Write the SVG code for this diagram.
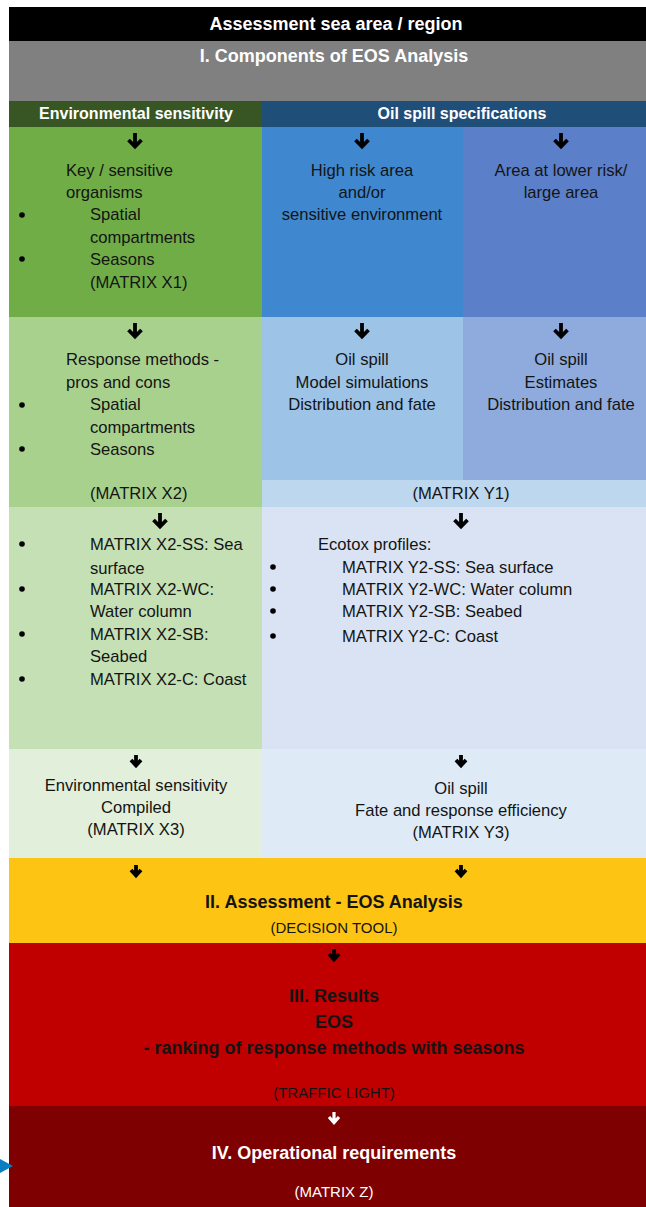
<svg xmlns="http://www.w3.org/2000/svg" width="646" height="1207" viewBox="0 0 646 1207">
<style>
text{font-family:"Liberation Sans",Arial,sans-serif;fill:#141414}
.r{font-size:16.6px}
.s{font-size:15px}
.b{font-size:18px;font-weight:bold}
.h{font-size:16px;font-weight:bold;fill:#fff}
.w{fill:#fff}
.m{text-anchor:middle}
.arr{fill:none;stroke:#000;stroke-width:3.8;stroke-linecap:butt;stroke-linejoin:miter}
.arrw{fill:none;stroke:#fff;stroke-width:3.2;stroke-linejoin:miter}
.dot{fill:#000}
</style>
<defs>
<g id="ar"><path class="arr" d="M0,0V13M-6.5,7L0,13.5L6.5,7"/></g>
<g id="ars"><path class="arr" d="M0,0V10M-5,5L0,10.5L5,5"/></g>
</defs>

<g id="title">
<rect x="9" y="7" width="637" height="34" fill="#000"/>
<text class="b w m" x="336" y="30">Assessment sea area / region</text>
</g>
<g id="components">
<rect x="9" y="41" width="637" height="60" fill="#808080"/>
<text class="b w m" x="334" y="62">I. Components of EOS Analysis</text>
</g>
<g id="hdr-env">
<rect x="9" y="101" width="253" height="26" fill="#375623"/>
<text class="h m" x="136" y="119">Environmental sensitivity</text>
</g>
<g id="hdr-oil">
<rect x="262" y="101" width="384" height="26" fill="#1f4e79"/>
<text class="h m" x="462" y="119">Oil spill specifications</text>
</g>

<g id="key-organisms">
<rect x="9" y="127" width="253" height="190" fill="#70ad47"/>
<text class="r" x="66" y="176">Key / sensitive</text>
<text class="r" x="66" y="198">organisms</text>
<circle class="dot" cx="22" cy="215" r="2.8"/>
<text class="r" x="90" y="220">Spatial</text>
<text class="r" x="90" y="243">compartments</text>
<circle class="dot" cx="22" cy="259" r="2.8"/>
<text class="r" x="90" y="265">Seasons</text>
<text class="r" x="90" y="288">(MATRIX X1)</text>
</g>
<g id="high-risk">
<rect x="262" y="127" width="201" height="190" fill="#3f88cf"/>
<text class="r m" x="362" y="176">High risk area</text>
<text class="r m" x="362" y="198">and/or</text>
<text class="r m" x="362" y="220">sensitive environment</text>
</g>
<g id="lower-risk">
<rect x="463" y="127" width="183" height="190" fill="#5b80c9"/>
<text class="r m" x="561" y="176">Area at lower risk/</text>
<text class="r m" x="561" y="198">large area</text>
</g>

<g id="response-methods">
<rect x="9" y="317" width="253" height="190" fill="#a9d18e"/>
<text class="r" x="66" y="365">Response methods -</text>
<text class="r" x="66" y="388">pros and cons</text>
<circle class="dot" cx="22" cy="405" r="2.8"/>
<text class="r" x="90" y="410">Spatial</text>
<text class="r" x="90" y="433">compartments</text>
<circle class="dot" cx="22" cy="449" r="2.8"/>
<text class="r" x="90" y="455">Seasons</text>
<text class="r" x="90" y="499">(MATRIX X2)</text>
</g>
<g id="model-sim">
<rect x="262" y="317" width="201" height="163" fill="#9dc3e6"/>
<text class="r m" x="362" y="365">Oil spill</text>
<text class="r m" x="362" y="388">Model simulations</text>
<text class="r m" x="362" y="410">Distribution and fate</text>
</g>
<g id="estimates">
<rect x="463" y="317" width="183" height="163" fill="#8faadc"/>
<text class="r m" x="561" y="365">Oil spill</text>
<text class="r m" x="561" y="388">Estimates</text>
<text class="r m" x="561" y="410">Distribution and fate</text>
</g>
<g id="matrix-y1">
<rect x="262" y="480" width="384" height="27" fill="#bdd7ee"/>
<text class="r m" x="461" y="499">(MATRIX Y1)</text>
</g>

<g id="matrix-x2-list">
<rect x="9" y="507" width="253" height="242" fill="#c5e0b4"/>
<circle class="dot" cx="22" cy="544" r="2.8"/>
<text class="r" x="90" y="550">MATRIX X2-SS: Sea</text>
<text class="r" x="90" y="574">surface</text>
<circle class="dot" cx="22" cy="589" r="2.8"/>
<text class="r" x="90" y="595">MATRIX X2-WC:</text>
<text class="r" x="90" y="617">Water column</text>
<circle class="dot" cx="22" cy="634" r="2.8"/>
<text class="r" x="90" y="640">MATRIX X2-SB:</text>
<text class="r" x="90" y="662">Seabed</text>
<circle class="dot" cx="22" cy="679" r="2.8"/>
<text class="r" x="90" y="685">MATRIX X2-C: Coast</text>
</g>
<g id="ecotox">
<rect x="262" y="507" width="384" height="242" fill="#dae3f3"/>
<text class="r" x="318" y="550">Ecotox profiles:</text>
<circle class="dot" cx="273" cy="567" r="2.8"/>
<text class="r" x="342" y="573">MATRIX Y2-SS: Sea surface</text>
<circle class="dot" cx="273" cy="589" r="2.8"/>
<text class="r" x="342" y="595">MATRIX Y2-WC: Water column</text>
<circle class="dot" cx="273" cy="611" r="2.8"/>
<text class="r" x="342" y="617">MATRIX Y2-SB: Seabed</text>
<circle class="dot" cx="273" cy="636" r="2.8"/>
<text class="r" x="342" y="642">MATRIX Y2-C: Coast</text>
</g>

<g id="env-compiled">
<rect x="9" y="749" width="253" height="109" fill="#e2efda"/>
<text class="r m" x="136" y="791">Environmental sensitivity</text>
<text class="r m" x="136" y="813">Compiled</text>
<text class="r m" x="136" y="835">(MATRIX X3)</text>
</g>
<g id="fate-efficiency">
<rect x="262" y="749" width="384" height="109" fill="#deebf7"/>
<text class="r m" x="461" y="794">Oil spill</text>
<text class="r m" x="461" y="816">Fate and response efficiency</text>
<text class="r m" x="461" y="838">(MATRIX Y3)</text>
</g>

<g id="assessment">
<rect x="9" y="858" width="637" height="85" fill="#fec413"/>
<text class="b m" x="334" y="908">II. Assessment - EOS Analysis</text>
<text class="s m" x="334" y="933">(DECISION TOOL)</text>
</g>
<g id="results">
<rect x="9" y="943" width="637" height="163" fill="#c00000"/>
<text class="b m" x="334" y="1002">III. Results</text>
<text class="b m" x="334" y="1028">EOS</text>
<text class="b m" x="334" y="1054">- ranking of response methods with seasons</text>
<text class="s m" x="334" y="1098">(TRAFFIC LIGHT)</text>
</g>
<g id="operational">
<rect x="9" y="1106" width="637" height="101" fill="#7f0000"/>
<text class="b w m" x="334" y="1159">IV. Operational requirements</text>
<text class="s w m" x="334" y="1197">(MATRIX Z)</text>
</g>

<g id="connectors">
<use href="#ar" x="135" y="133"/>
<use href="#ar" x="362" y="133"/>
<use href="#ar" x="561" y="133"/>
<use href="#ar" x="135" y="323"/>
<use href="#ar" x="362" y="323"/>
<use href="#ar" x="561" y="323"/>
<use href="#ar" x="160" y="513"/>
<use href="#ar" x="461" y="513"/>
<use href="#ars" x="136" y="755"/>
<use href="#ars" x="461" y="755"/>
<use href="#ars" x="136" y="865"/>
<use href="#ars" x="461" y="865"/>
<use href="#ars" x="334" y="949"/>
<path class="arrw" d="M334,1112V1122M329,1117L334,1122.5L339,1117"/>
<polygon points="0,1159 13,1166 0,1173" fill="#0b7dc2"/>
</g>
</svg>
